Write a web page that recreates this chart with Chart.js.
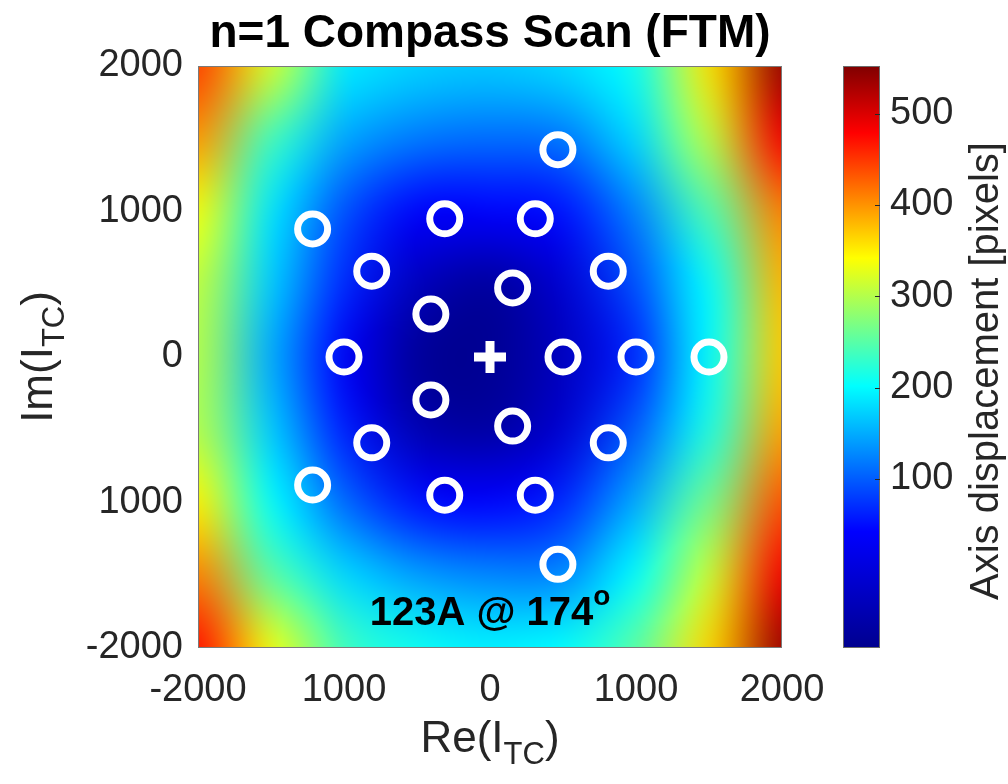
<!DOCTYPE html>
<html>
<head>
<meta charset="utf-8">
<script src="https://cdn.jsdelivr.net/npm/chart.js@4.4.1/dist/chart.umd.min.js"></script>
<style>
  html, body { margin:0; padding:0; background:#fff; overflow:hidden; }
  canvas { display:block; }
</style>
</head>
<body>
<canvas id="scan" width="1008" height="784"></canvas>
<script>
// scan points, Re / Im of I_TC
const scanRe = [500, 155, -405, -405, 155, 1000, 810, 310, -310, -810, -1000, -810, -310, 310, 810, 1500, 465, -1215, -1215, 465];
const scanIm = [0, 475, 295, -295, -475, 0, 590, 950, 950, 590, 0, -590, -950, -950, -590, 0, 1425, 880, -880, -1425];
const centreRe = [0];
const centreIm = [0];

// displacement map (rows Im 2000 -> -2000, cols Re -2000 -> 2000)
const mapRe = [-2000, -1500, -1000, -500, 0, 500, 1000, 1500, 2000];
const mapIm = [2000, 1500, 1000, 500, 0, -500, -1000, -1500, -2000];
const mapVals = [
  [445, 320, 189, 173, 167, 178, 209, 356, 540],
  [397, 237, 146, 118, 110, 116, 178, 305, 485],
  [335, 186,  92,  38,  40,  52, 125, 244, 410],
  [307, 170,  66, -35, -70, -10,  92, 202, 380],
  [300, 150,  32, -75, -82, -30,  66, 202, 370],
  [300, 170,  60, -45, -65, -10, 100, 216, 390],
  [349, 202, 108,  52,  40,  66, 150, 265, 436],
  [410, 251, 178, 142, 126, 128, 202, 314, 486],
  [472, 335, 237, 209, 194, 202, 251, 363, 537],
];

// axes
const axisTicks  = [-2000, -1000, 0, 1000, 2000];
const xTickText  = ['-2000', '1000', '0', '1000', '2000'];
const yTickText  = ['-2000', '1000', '0', '1000', '2000'];
const cbTicks    = [100, 200, 300, 400, 500];
const cbMin = -85, cbMax = 552;

const FONT = '"Liberation Sans", Arial, Helvetica, sans-serif';
const INK  = '#262626';

// jet-like colour stops as seen on the colour bar
const jetStops = [
  [0.000, [0, 0, 143]],
  [0.200, [0, 0, 255]],
  [0.450, [0, 255, 255]],
  [0.670, [255, 255, 0]],
  [0.885, [255, 0, 0]],
  [1.000, [128, 0, 0]],
];

function jet(f) {
  f = Math.max(0, Math.min(1, f));
  for (let i = 1; i < jetStops.length; i++) {
    const [f1, c1] = jetStops[i];
    const [f0, c0] = jetStops[i-1];
    if (f <= f1) {
      const t = (f - f0) / (f1 - f0);
      return c0.map((c,k) => Math.round(c + (c1[k]-c)*t));
    }
  }
  return jetStops[jetStops.length-1][1];
}

const heatPlugin = {
  id: 'heat',
  beforeDatasetsDraw(chart) {
    const {ctx, chartArea:a, scales:{x, y, cb}} = chart;
    const n = mapRe.length, m = mapIm.length;
    const off = document.createElement('canvas');
    off.width = n; off.height = m;
    const octx = off.getContext('2d');
    const img  = octx.createImageData(n, m);
    mapVals.forEach((row, r) => row.forEach((v, c) => {
      const frac = (cb.bottom - cb.getPixelForValue(v)) / (cb.bottom - cb.top);
      const [R,G,B] = jet(frac);
      const k = (r*n + c)*4;
      img.data[k] = R; img.data[k+1] = G; img.data[k+2] = B; img.data[k+3] = 255;
    }));
    octx.putImageData(img, 0, 0);

    const hx = (mapRe[1]-mapRe[0])/2, hy = (mapIm[0]-mapIm[1])/2;
    const x0 = x.getPixelForValue(mapRe[0]-hx),   x1 = x.getPixelForValue(mapRe[n-1]+hx);
    const y0 = y.getPixelForValue(mapIm[0]+hy),   y1 = y.getPixelForValue(mapIm[m-1]-hy);
    ctx.save();
    ctx.beginPath(); ctx.rect(a.left, a.top, a.width, a.height); ctx.clip();
    ctx.imageSmoothingEnabled = true;
    ctx.imageSmoothingQuality = 'high';
    ctx.drawImage(off, x0, y0, x1-x0, y1-y0);
    ctx.restore();

    // colour bar
    const bl = a.right + 61, bw = 37;
    const bt = cb.getPixelForValue(cbMax), bb = cb.getPixelForValue(cbMin);
    const g = ctx.createLinearGradient(0, bb, 0, bt);
    jetStops.forEach(([f,c]) => g.addColorStop(f, `rgb(${c[0]},${c[1]},${c[2]})`));
    ctx.save();
    ctx.fillStyle = g;
    ctx.fillRect(bl, bt, bw, bb-bt);
    ctx.strokeStyle = '#6b6b6b'; ctx.lineWidth = 1;
    ctx.strokeRect(bl+0.5, bt+0.5, bw-1, bb-bt-1);
    ctx.strokeStyle = INK;
    cbTicks.forEach(v => {
      const py = Math.round(cb.getPixelForValue(v)) + 0.5;
      ctx.beginPath(); ctx.moveTo(bl+bw-5, py); ctx.lineTo(bl+bw, py); ctx.stroke();
    });
    ctx.restore();
  },
};

function subText(ctx, parts, cx, cy) {
  // parts: [text, size, dy, bold]
  let w = 0;
  parts.forEach(p => { ctx.font = `${p[3]?'bold ':''}${p[1]}px ${FONT}`; p.w = ctx.measureText(p[0]).width; w += p.w; });
  let px = cx - w/2;
  parts.forEach(p => {
    ctx.font = `${p[3]?'bold ':''}${p[1]}px ${FONT}`;
    ctx.fillText(p[0], px, cy + p[2]);
    px += p.w;
  });
}

const textPlugin = {
  id: 'texts',
  afterDraw(chart) {
    const {ctx, chartArea:a} = chart;
    const cx = (a.left + a.right)/2;
    ctx.save();
    ctx.textBaseline = 'alphabetic';
    ctx.textAlign = 'left';

    // plot box
    ctx.strokeStyle = '#7a7a7a'; ctx.lineWidth = 1;
    ctx.strokeRect(a.left+0.5, a.top+0.5, a.width-1, a.height-1);

    ctx.fillStyle = '#000';
    subText(ctx, [['n=1 Compass Scan (FTM)', 46, 0, true]], cx, 47);

    ctx.fillStyle = '#000';
    subText(ctx, [['123A @ 174', 40, 0, true], ['o', 28, -20, true]], cx, 625);

    ctx.fillStyle = INK;
    subText(ctx, [['Re(I', 44, 0], ['TC', 31, 12], [')', 44, 0]], cx, 752);

    ctx.save();
    ctx.translate(52, (a.top + a.bottom)/2);
    ctx.rotate(-Math.PI/2);
    subText(ctx, [['Im(I', 44, 0], ['TC', 31, 12], [')', 44, 0]], 0, 0);
    ctx.restore();

    ctx.save();
    ctx.translate(998, (a.top + a.bottom)/2 + 14);
    ctx.rotate(-Math.PI/2);
    subText(ctx, [['Axis displacement [pixels]', 40, 0]], 0, 0);
    ctx.restore();

    ctx.restore();
  },
};

const noPadV = s => { s.paddingTop = 0; s.paddingBottom = 0; };

new Chart(document.getElementById('scan'), {
  type: 'scatter',
  data: {
    datasets: [
      {
        data: scanRe.map((v,i) => ({x:v, y:scanIm[i]})),
        pointRadius: 15, pointHoverRadius: 15,
        pointBorderWidth: 7, pointHoverBorderWidth: 7,
        pointBorderColor: '#fff', pointBackgroundColor: 'rgba(0,0,0,0)',
      },
      {
        data: centreRe.map((v,i) => ({x:v, y:centreIm[i]})),
        pointStyle: 'cross',
        pointRadius: 16, pointHoverRadius: 16,
        pointBorderWidth: 9, pointHoverBorderWidth: 9,
        pointBorderColor: '#fff',
      },
    ],
  },
  options: {
    responsive: false,
    animation: false,
    devicePixelRatio: 1,
    events: [],
    layout: { padding: { top: 66, left: 0, right: 0, bottom: 0 } },
    plugins: { legend: { display:false }, tooltip: { enabled:false } },
    scales: {
      x: {
        type: 'linear', min: -2000, max: 2000,
        grid: { display:false, drawTicks:false }, border: { display:false },
        afterBuildTicks: s => { s.ticks = axisTicks.map(v => ({value:v})); },
        afterFit: s => { s.height = 136; s.paddingLeft = 0; s.paddingRight = 0; },
        ticks: {
          padding: 20, maxRotation: 0, color: INK,
          font: { family: FONT, size: 38 },
          callback: v => xTickText[axisTicks.indexOf(v)],
        },
      },
      y: {
        type: 'linear', min: -2000, max: 2000,
        grid: { display:false, drawTicks:false }, border: { display:false },
        afterBuildTicks: s => { s.ticks = axisTicks.map(v => ({value:v})); },
        afterFit: s => { s.width = 198; noPadV(s); },
        ticks: {
          padding: 15, color: INK,
          font: { family: FONT, size: 38 },
          callback: v => yTickText[axisTicks.indexOf(v)],
        },
      },
      cb: {
        type: 'linear', position: 'right', axis: 'y',
        min: cbMin, max: cbMax,
        grid: { display:false, drawTicks:false }, border: { display:false },
        afterBuildTicks: s => { s.ticks = cbTicks.map(v => ({value:v})); },
        afterFit: s => { s.width = 226; noPadV(s); },
        ticks: {
          padding: 108, color: INK,
          font: { family: FONT, size: 38 },
        },
      },
    },
  },
  plugins: [heatPlugin, textPlugin],
});
</script>
</body>
</html>
